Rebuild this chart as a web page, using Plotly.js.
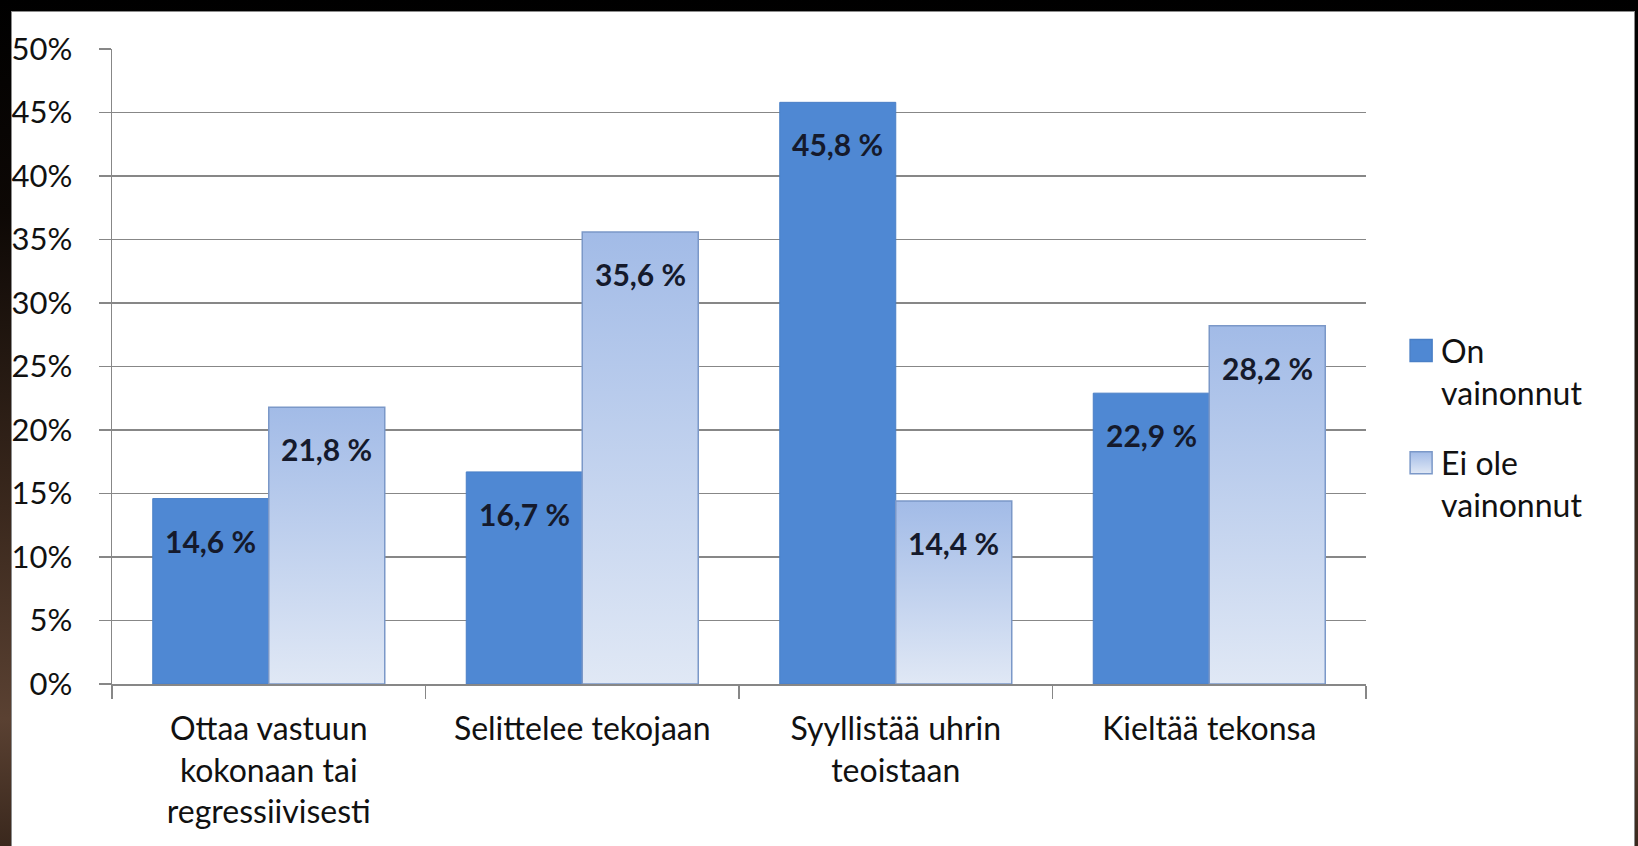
<!DOCTYPE html>
<html>
<head>
<meta charset="utf-8">
<script src="https://cdn.plot.ly/plotly-3.0.1.min.js"></script>
<style>
  html, body { margin: 0; padding: 0; width: 1638px; height: 846px; overflow: hidden;
    background: linear-gradient(to bottom, #000 0%, #0d0805 25%, #3a281d 60%, #5a4132 85%, #3a281d 100%); }
  #panel { position: absolute; left: 11px; top: 11px; width: 1622px; height: 834px;
    background: #fff; border: 1.5px solid #8c8c8c; }
  #chart { position: absolute; left: 0; top: 0; width: 1638px; height: 846px; }
</style>
</head>
<body>
<div id="panel"></div>
<div id="chart"></div>
<script>
const categories = [
  'Ottaa vastuun<br>kokonaan tai<br>regressiivisesti',
  'Selittelee tekojaan',
  'Syyllistää uhrin<br>teoistaan',
  'Kieltää tekonsa'
];
const seriesNames = ['On<br>vainonnut', 'Ei ole<br>vainonnut'];
const onVainonnut = [14.6, 16.7, 45.8, 22.9];
const eiOleVainonnut = [21.8, 35.6, 14.4, 28.2];
const yTickValues = [0, 5, 10, 15, 20, 25, 30, 35, 40, 45, 50];

const FONT = 'Lato, "Open Sans", sans-serif';
const gridColor = '#878787';

const traces = [
  {
    type: 'bar', x: categories, y: onVainonnut, name: seriesNames[0],
    legendgroup: 'a',
    marker: { color: '#4f88d3', line: { color: '#4a7fc6', width: 1 } },
    hoverinfo: 'skip'
  },
  {
    type: 'bar', x: categories, y: eiOleVainonnut, name: seriesNames[1],
    legendgroup: 'b',
    marker: { color: '#c3d3ef', line: { color: '#7b98c8', width: 1.5 } },
    hoverinfo: 'skip'
  }
];

function fmt(v) { return v.toFixed(1).replace('.', ',') + ' %'; }

const annotations = [];
[onVainonnut, eiOleVainonnut].forEach((arr, s) => {
  arr.forEach((v, i) => {
    annotations.push({
      x: categories[i], y: v, xref: 'x', yref: 'y',
      text: fmt(v), showarrow: false,
      xshift: s === 0 ? -58 : 58, yshift: -42,
      yanchor: 'middle', xanchor: 'center',
      font: { family: FONT, size: 30, color: '#151a2c', weight: 'bold' }
    });
  });
});

const layout = {
  width: 1638, height: 846,
  paper_bgcolor: 'rgba(0,0,0,0)', plot_bgcolor: 'rgba(0,0,0,0)',
  margin: { l: 112, r: 272, t: 49, b: 162 },
  barmode: 'group', bargap: 0.26, bargroupgap: 0,
  font: { family: FONT, size: 32, color: '#111' },
  showlegend: true,
  legend: {
    x: 1.028, xanchor: 'left', y: 0.568, yanchor: 'top',
    valign: 'top', tracegroupgap: 26, traceorder: 'grouped',
    font: { family: FONT, size: 32, color: '#111' },
    bgcolor: 'rgba(0,0,0,0)'
  },
  xaxis: {
    type: 'category', tickson: 'boundaries', ticks: 'outside', ticklen: 13,
    tickcolor: gridColor, tickwidth: 1.5,
    showline: true, linecolor: gridColor, linewidth: 1.5,
    showgrid: false, zeroline: false,
    tickfont: { family: FONT, size: 32, color: '#111' },
    ticklabelstandoff: 16
  },
  yaxis: {
    range: [0, 50], tickvals: yTickValues, ticktext: yTickValues.map(v => v + '%'),
    ticks: 'outside', ticklen: 12, tickcolor: gridColor, tickwidth: 1.5,
    showline: true, linecolor: gridColor, linewidth: 1.5,
    showgrid: true, gridcolor: gridColor, gridwidth: 1.5,
    zeroline: false,
    tickfont: { family: FONT, size: 31, color: '#111' },
    ticklabelstandoff: 20
  },
  annotations: annotations
};

Plotly.newPlot('chart', traces, layout, { staticPlot: true, displayModeBar: false }).then(gd => {
  const svgNS = 'http://www.w3.org/2000/svg';
  const svg = gd.querySelector('svg.main-svg');
  let defs = svg.querySelector('defs');
  if (!defs) { defs = document.createElementNS(svgNS, 'defs'); svg.insertBefore(defs, svg.firstChild); }
  const lg = document.createElementNS(svgNS, 'linearGradient');
  lg.setAttribute('id', 'lightGrad');
  lg.setAttribute('x1', '0'); lg.setAttribute('y1', '0');
  lg.setAttribute('x2', '0'); lg.setAttribute('y2', '1');
  [['0', '#a2bbe7'], ['1', '#e0e8f5']].forEach(([o, c]) => {
    const st = document.createElementNS(svgNS, 'stop');
    st.setAttribute('offset', o); st.setAttribute('stop-color', c);
    lg.appendChild(st);
  });
  defs.appendChild(lg);
  const barTraces = gd.querySelectorAll('g.trace.bars');
  if (barTraces[1]) barTraces[1].querySelectorAll('path').forEach(p => { p.style.fill = 'url(#lightGrad)'; });
  const legTraces = gd.querySelectorAll('.legend .traces');
  legTraces.forEach((t, i) => {
    const p = t.querySelector('.legendpoints path');
    if (p) {
      p.setAttribute('d', 'M11,11H-11V-11H11Z');
      p.style.strokeWidth = '1.5px';
      if (i === 1) p.style.fill = 'url(#lightGrad)';
    }
  });
});
</script>
</body>
</html>
